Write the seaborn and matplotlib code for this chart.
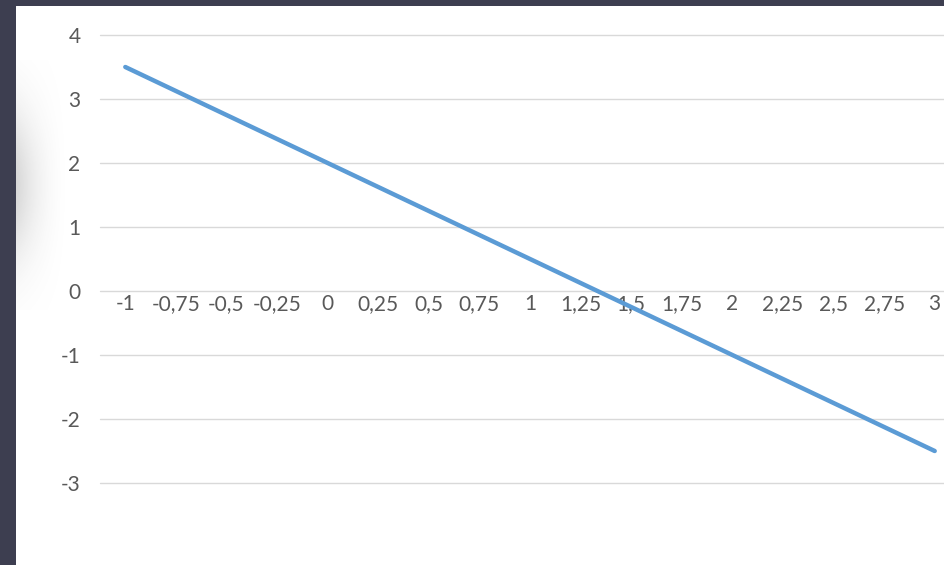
import matplotlib
matplotlib.use("Agg")
import matplotlib.pyplot as plt
import seaborn as sns
import pandas as pd
import numpy as np

x_labels = ["-1", "-0,75", "-0,5", "-0,25", "0", "0,25", "0,5", "0,75", "1",
            "1,25", "1,5", "1,75", "2", "2,25", "2,5", "2,75", "3"]
y_values = [3.5, 3.125, 2.75, 2.375, 2.0, 1.625, 1.25, 0.875, 0.5,
            0.125, -0.25, -0.625, -1.0, -1.375, -1.75, -2.125, -2.5]
y_ticks = [-3, -2, -1, 0, 1, 2, 3, 4]

sns.set_theme(style="white")
plt.rcParams["font.family"] = ["Lato", "DejaVu Sans"]

W, H = 945, 565
fig = plt.figure(figsize=(W / 100, H / 100), dpi=100)
fig.patch.set_facecolor("#3d3e50")

# white slide area
bg = fig.add_axes([16 / W, 0, 1 - 16 / W, (H - 6) / H])
bg.set_axis_off()
bg.add_patch(plt.Rectangle((0, 0), 1, 1, transform=bg.transAxes, color="white"))

# soft shadow on the left edge of the slide
gx = np.linspace(0, 1, 80)
gy = np.linspace(-1, 1, 200)
alpha = (1 - gx)[None, :] ** 2 * np.exp(-(gy[:, None] / 0.6) ** 2) * 0.35
img = np.zeros((200, 80, 4))
img[..., :3] = 0.55
img[..., 3] = alpha
shade = fig.add_axes([16 / W, (H - 310) / H, 55 / W, 250 / H])
shade.imshow(img, aspect="auto")
shade.set_axis_off()

df = pd.DataFrame({"x": x_labels, "y": y_values})
ax = fig.add_axes([100 / W, (H - 483) / H, 860 / W, 448 / H])
ax.set_facecolor("none")
sns.lineplot(data=df, x="x", y="y", sort=False, ax=ax, color="#5b9bd5",
             linewidth=3.2, solid_capstyle="round")

ax.set_xlim(-0.5, len(x_labels) - 0.5)
ax.set_ylim(-3, 4)
ax.set_yticks(y_ticks)
ax.yaxis.grid(True, color="#d9d9d9", linewidth=1.0)
ax.set_axisbelow(True)
for gl in ax.get_ygridlines():
    gl.set_clip_on(False)
for s in ["top", "right", "left"]:
    ax.spines[s].set_visible(False)
ax.spines["bottom"].set_position(("data", 0))
ax.spines["bottom"].set_visible(False)
ax.set_xlabel("")
ax.set_ylabel("")
ax.tick_params(axis="y", length=0, pad=14, labelsize=15, labelcolor="#595959")
ax.tick_params(axis="x", length=0, pad=2, labelsize=15, labelcolor="#595959")
ax.set_yticklabels([str(t) for t in y_ticks])

fig.savefig("out.png", dpi=100)
